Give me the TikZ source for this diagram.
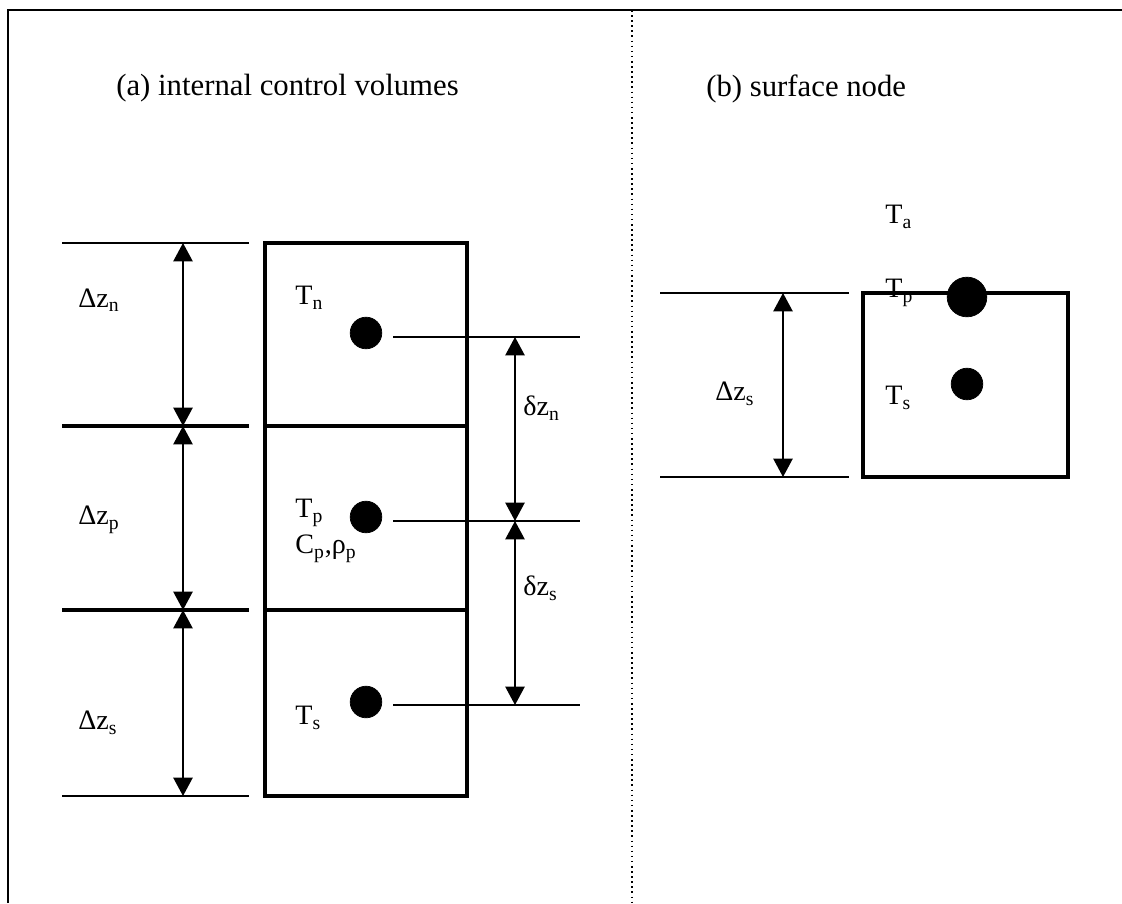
\documentclass[tikz,border=0pt]{standalone}
\usepackage{fontspec}
\setmainfont{Liberation Serif}
\usetikzlibrary{arrows.meta}

\tikzset{
  dim/.style={black, line width=1pt, {Triangle[length=10.5pt,width=11pt]}-{Triangle[length=10.5pt,width=11pt]}},
  cell/.style={black, line width=2.6pt},
  lvl/.style={black, line width=1.1pt},
  lbl/.style={font=\fontsize{16}{18}\selectfont, inner sep=0pt, anchor=west},
  head/.style={font=\fontsize{17.5}{20}\selectfont, inner sep=0pt, anchor=west},
}

\begin{document}
\begin{tikzpicture}[x=0.02cm, y=-0.02cm]
	\useasboundingbox (0,0) rectangle (1122,903);
	% frame
	\draw[black, line width=1.2pt] (8,903) -- (8,10) -- (1122,10);
	\draw[black, dotted, line width=0.9pt] (632,10) -- (632,903);
	\node[head] (ta) at (116,88) {(a) internal control volumes};
	\node[head] (tb) at (706,89) {(b) surface node};

	% (a) internal control volumes
	\draw[lvl] (62,243) coordinate (la) -- (249,243);
	\draw[lvl, line width=2.2pt] (62,426) coordinate (lb) -- (249,426);
	\draw[lvl, line width=2.2pt] (62,610) coordinate (lc) -- (249,610);
	\draw[lvl] (62,796) coordinate (ld) -- (249,796);
	\coordinate (da) at (183,243);
	\coordinate (db) at (183,426);
	\coordinate (dc) at (183,610);
	\coordinate (dd) at (183,796);
	\draw[dim] (da) -- (db);
	\draw[dim] (db) -- (dc);
	\draw[dim] (dc) -- (dd);
	\draw[cell] (265,243) rectangle (467,796);
	\draw[cell] (265,426) -- (467,426);
	\draw[cell] (265,610) -- (467,610);
	\filldraw[black] (366,333) circle (9pt) coordinate (pn);
	\filldraw[black] (366,517) circle (9pt) coordinate (pp);
	\filldraw[black] (366,702) circle (9pt) coordinate (ps);
	\draw[lvl] (393,337) coordinate (rn) -- (580,337);
	\draw[lvl] (393,521) coordinate (rp) -- (580,521);
	\draw[lvl] (393,705) coordinate (rs) -- (580,705);
	\coordinate (ea) at (515,337);
	\coordinate (eb) at (515,521);
	\coordinate (ec) at (515,705);
	\draw[dim] (ea) -- (eb);
	\draw[dim] (eb) -- (ec);
	\node[lbl] (dzn) at (78,300) {Δz\textsubscript{n}};
	\node[lbl] (dzp) at (78,520) {Δz\textsubscript{p}};
	\node[lbl] (dzs) at (78,723) {Δz\textsubscript{s}};
	\node[lbl] (tn) at (295,298) {T\textsubscript{n}};
	\node[lbl] (tp) at (295,513) {T\textsubscript{p}};
	\node[lbl] (cp) at (295,549) {C\textsubscript{p},ρ\textsubscript{p}};
	\node[lbl] (ts) at (295,718) {T\textsubscript{s}};
	\node[lbl] (sdn) at (523,408) {δz\textsubscript{n}};
	\node[lbl] (sds) at (523,588) {δz\textsubscript{s}};

	% (b) surface node
	\draw[lvl] (660,293) coordinate (ua) -- (849,293);
	\draw[lvl] (660,477) coordinate (ub) -- (849,477);
	\coordinate (fa) at (783,293);
	\coordinate (fb) at (783,477);
	\draw[dim] (fa) -- (fb);
	\draw[cell] (863,293) rectangle (1068,477);
	\filldraw[black] (967,297) circle (11.3pt) coordinate (sp);
	\filldraw[black] (967,384) circle (9pt) coordinate (ss);
	\node[lbl] (bdz) at (715,394) {Δz\textsubscript{s}};
	\node[lbl] (bta) at (885,217) {T\textsubscript{a}};
	\node[lbl] (btp) at (885,293) {T\textsubscript{p}};
	\node[lbl] (bts) at (885,398) {T\textsubscript{s}};
\end{tikzpicture}
\end{document}
